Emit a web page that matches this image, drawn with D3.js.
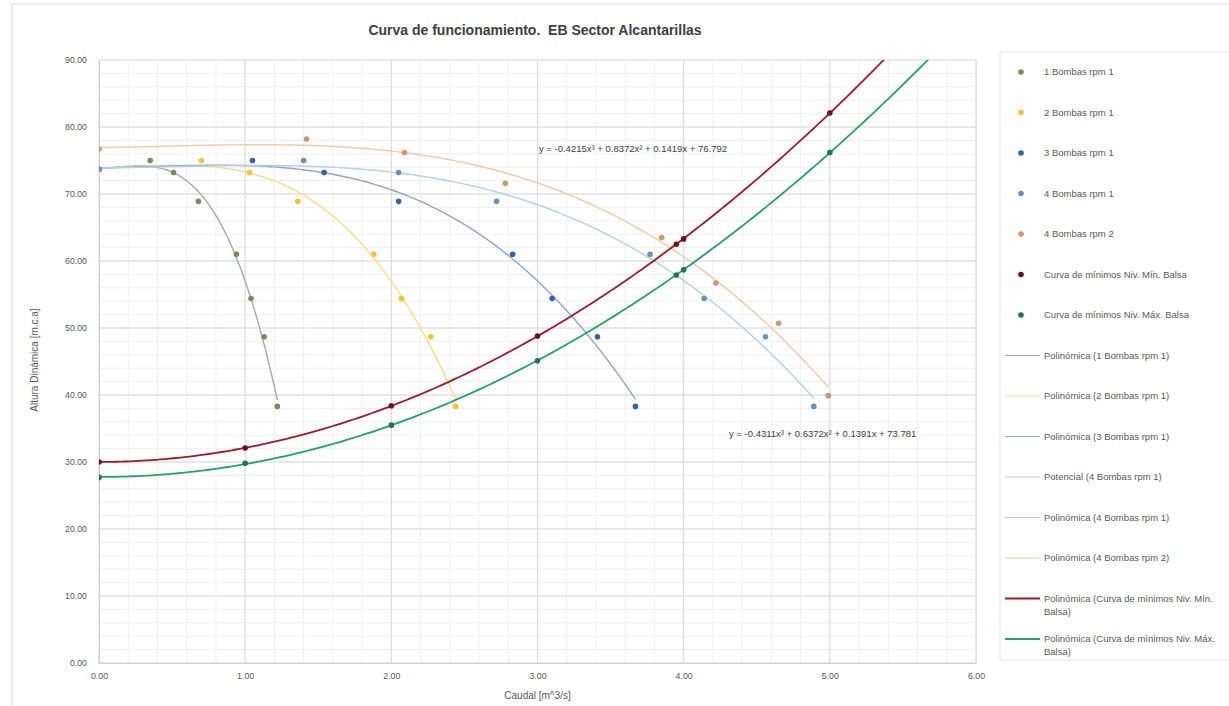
<!DOCTYPE html>
<html>
<head>
<meta charset="utf-8">
<script src="https://cdn.jsdelivr.net/npm/d3@7"></script>
<style>
  body { margin: 0; background: #fff; }
  svg { font-family: "Liberation Sans", Arial, sans-serif; }
</style>
</head>
<body>
<div id="chart"></div>
<script>
// caudal (m3/s) y altura (m.c.a)
const alturaRpm1 = [73.7, 75.0, 73.2, 68.9, 61.0, 54.4, 48.7, 38.3];
const caudal1Bomba = [0, 0.35, 0.51, 0.68, 0.94, 1.04, 1.13, 1.22];
const caudal2Bombas = [0, 0.70, 1.03, 1.36, 1.88, 2.07, 2.27, 2.44];
const caudal3Bombas = [0, 1.05, 1.54, 2.05, 2.83, 3.10, 3.41, 3.67];
const caudal4Bombas = [0, 1.40, 2.05, 2.72, 3.77, 4.14, 4.56, 4.89];
const caudal4BombasRpm2 = [0, 1.42, 2.09, 2.78, 3.85, 4.22, 4.65, 4.99];
const altura4BombasRpm2 = [76.7, 78.2, 76.2, 71.6, 63.5, 56.7, 50.7, 39.9];
const caudalCurva = [0, 1, 2, 3, 3.95, 4, 5];
const alturaMinBalsa = [30.0, 32.1, 38.4, 48.8, 62.5, 63.3, 82.1];
const alturaMaxBalsa = [27.7, 29.8, 35.5, 45.1, 57.9, 58.7, 76.2];

const xTicks = [0, 1, 2, 3, 4, 5, 6];
const yTicks = [0, 10, 20, 30, 40, 50, 60, 70, 80, 90];

const titulo = 'Curva de funcionamiento.\u00a0 EB Sector Alcantarillas';
const ecuacionRpm2 = 'y = -0.4215x³ + 0.8372x² + 0.1419x + 76.792';
const ecuacionRpm1 = 'y = -0.4311x³ + 0.6372x² + 0.1391x + 73.781';

const series = [
  { name: '1 Bombas rpm 1', q: caudal1Bomba, h: alturaRpm1, color: '#71905c', trend: '#a9a9a9', deg: 3 },
  { name: '2 Bombas rpm 1', q: caudal2Bombas, h: alturaRpm1, color: '#f4c430', trend: '#f6df86', deg: 3 },
  { name: '3 Bombas rpm 1', q: caudal3Bombas, h: alturaRpm1, color: '#3b5ea6', trend: '#93a5bf', deg: 3 },
  { name: '4 Bombas rpm 1', q: caudal4Bombas, h: alturaRpm1, color: '#6a90bd', trend: '#b3d0ea', deg: 3 },
  { name: '4 Bombas rpm 2', q: caudal4BombasRpm2, h: altura4BombasRpm2, color: '#c99a6c', trend: '#f3c9a6', deg: 3 },
  { name: 'Curva de mínimos Niv. Mín. Balsa', q: caudalCurva, h: alturaMinBalsa, color: '#6e1020', trend: '#a3182c', deg: 2, forward: true },
  { name: 'Curva de mínimos Niv. Máx. Balsa', q: caudalCurva, h: alturaMaxBalsa, color: '#1f7655', trend: '#22a36c', deg: 2, forward: true }
];

const legendItems = [
  { text: ['1 Bombas rpm 1'], dot: series[0].color },
  { text: ['2 Bombas rpm 1'], dot: series[1].color },
  { text: ['3 Bombas rpm 1'], dot: series[2].color },
  { text: ['4 Bombas rpm 1'], dot: series[3].color },
  { text: ['4 Bombas rpm 2'], dot: series[4].color },
  { text: ['Curva de mínimos Niv. Mín. Balsa'], dot: series[5].color },
  { text: ['Curva de mínimos Niv. Máx. Balsa'], dot: series[6].color },
  { text: ['Polinómica (1 Bombas rpm 1)'], line: series[0].trend },
  { text: ['Polinómica (2 Bombas rpm 1)'], line: series[1].trend },
  { text: ['Polinómica (3 Bombas rpm 1)'], line: series[2].trend },
  { text: ['Potencial (4 Bombas rpm 1)'], line: '#c8c8c8' },
  { text: ['Polinómica (4 Bombas rpm 1)'], line: series[3].trend },
  { text: ['Polinómica (4 Bombas rpm 2)'], line: series[4].trend },
  { text: ['Polinómica (Curva de mínimos Niv. Mín.', 'Balsa)'], line: series[5].trend, thick: true },
  { text: ['Polinómica (Curva de mínimos Niv. Máx.', 'Balsa)'], line: series[6].trend, thick: true }
];

// ajuste por minimos cuadrados (como la linea de tendencia de Excel)
function polyfit(xs, ys, deg) {
  const n = deg + 1;
  const A = [];
  for (let i = 0; i < n; i++) {
    A.push([]);
    for (let j = 0; j <= n; j++) A[i].push(0);
  }
  xs.forEach((x, k) => {
    for (let i = 0; i < n; i++) {
      for (let j = 0; j < n; j++) A[i][j] += Math.pow(x, i + j);
      A[i][n] += ys[k] * Math.pow(x, i);
    }
  });
  for (let c = 0; c < n; c++) {
    let p = c;
    for (let r = c + 1; r < n; r++) if (Math.abs(A[r][c]) > Math.abs(A[p][c])) p = r;
    [A[c], A[p]] = [A[p], A[c]];
    for (let r = 0; r < n; r++) {
      if (r === c) continue;
      const f = A[r][c] / A[c][c];
      for (let j = c; j <= n; j++) A[r][j] -= f * A[c][j];
    }
  }
  return A.map((row, i) => row[n] / row[i]);
}

const width = 1229, height = 706;
const margin = { top: 60, left: 99 };
const plotW = 877, plotH = 603;

const svg = d3.select('#chart').append('svg')
  .attr('width', width)
  .attr('height', height);

svg.append('rect').attr('x', 12).attr('y', 4).attr('width', width).attr('height', height)
  .attr('fill', '#fff').attr('stroke', '#d9d9d9');

const x = d3.scaleLinear().domain([0, 6]).range([margin.left, margin.left + plotW]);
const y = d3.scaleLinear().domain([0, 90]).range([margin.top + plotH, margin.top]);

// rejilla secundaria
svg.append('g').selectAll('line')
  .data(d3.range(0, 6.001, 0.2))
  .join('line')
  .attr('x1', d => x(d)).attr('x2', d => x(d))
  .attr('y1', y(0)).attr('y2', y(90))
  .attr('stroke', '#f0f0f0');
svg.append('g').selectAll('line')
  .data(d3.range(0, 90.001, 2))
  .join('line')
  .attr('x1', x(0)).attr('x2', x(6))
  .attr('y1', d => y(d)).attr('y2', d => y(d))
  .attr('stroke', '#f0f0f0');

// rejilla principal
svg.append('g').selectAll('line')
  .data(xTicks)
  .join('line')
  .attr('x1', d => x(d)).attr('x2', d => x(d))
  .attr('y1', y(0)).attr('y2', y(90))
  .attr('stroke', '#dadada');
svg.append('g').selectAll('line')
  .data(yTicks)
  .join('line')
  .attr('x1', x(0)).attr('x2', x(6))
  .attr('y1', d => y(d)).attr('y2', d => y(d))
  .attr('stroke', '#dadada');

const xAxis = svg.append('g')
  .attr('transform', 'translate(0,' + y(0) + ')')
  .call(d3.axisBottom(x).tickValues(xTicks).tickFormat(d3.format('.2f')).tickSize(0).tickPadding(10));
const yAxis = svg.append('g')
  .attr('transform', 'translate(' + x(0) + ',0)')
  .call(d3.axisLeft(y).tickValues(yTicks).tickFormat(d3.format('.2f')).tickSize(0).tickPadding(12));
[xAxis, yAxis].forEach(a => {
  a.select('.domain').attr('stroke', '#d0d0d0');
  a.selectAll('text').attr('fill', '#595959').style('font-size', '8.8px');
});

svg.append('defs').append('clipPath').attr('id', 'plot')
  .append('rect').attr('x', x(0)).attr('y', y(90)).attr('width', plotW).attr('height', plotH);

const plot = svg.append('g').attr('clip-path', 'url(#plot)');
const line = d3.line().x(d => x(d[0])).y(d => y(d[1]));

series.forEach(s => {
  const c = polyfit(s.q, s.h, s.deg);
  const xmax = s.forward ? 6 : d3.max(s.q);
  const pts = d3.range(0, xmax + 0.0001, xmax / 200).map(v => [v, c.reduce((acc, k, i) => acc + k * Math.pow(v, i), 0)]);
  plot.append('path')
    .datum(pts)
    .attr('fill', 'none')
    .attr('stroke', s.trend)
    .attr('stroke-width', s.forward ? 1.8 : 1.4)
    .attr('d', line);
});

series.forEach(s => {
  plot.append('g').selectAll('circle')
    .data(s.q.map((q, i) => [q, s.h[i]]))
    .join('circle')
    .attr('cx', d => x(d[0]))
    .attr('cy', d => y(d[1]))
    .attr('r', 2.8)
    .attr('fill', s.color);
});

svg.append('text')
  .attr('x', x(3.01)).attr('y', y(76.3))
  .attr('fill', '#404040').style('font-size', '9.5px')
  .text(ecuacionRpm2);
svg.append('text')
  .attr('x', x(4.31)).attr('y', y(33.7))
  .attr('fill', '#404040').style('font-size', '9.5px')
  .text(ecuacionRpm1);

svg.append('text')
  .attr('x', 535).attr('y', 35)
  .attr('text-anchor', 'middle')
  .attr('fill', '#404040')
  .style('font-size', '14px').style('font-weight', 'bold')
  .text(titulo);

svg.append('text')
  .attr('x', x(3)).attr('y', 699)
  .attr('text-anchor', 'middle').attr('fill', '#595959')
  .style('font-size', '10px')
  .text('Caudal [m^3/s]');

svg.append('text')
  .attr('transform', 'translate(38,360) rotate(-90)')
  .attr('text-anchor', 'middle').attr('fill', '#595959')
  .style('font-size', '10px')
  .text('Altura Dinámica [m.c.a]');

// leyenda
svg.append('rect').attr('x', 1000).attr('y', 52).attr('width', 240).attr('height', 608)
  .attr('fill', 'none').attr('stroke', '#e6e6e6');

const leg = svg.append('g').selectAll('g')
  .data(legendItems)
  .join('g')
  .attr('transform', (d, i) => 'translate(0,' + (72 + i * 40.5) + ')');

leg.filter(d => d.dot).append('circle')
  .attr('cx', 1021).attr('cy', 0).attr('r', 2.8)
  .attr('fill', d => d.dot);
leg.filter(d => d.line).append('line')
  .attr('x1', 1005).attr('x2', 1040).attr('y1', 0).attr('y2', 0)
  .attr('stroke', d => d.line)
  .attr('stroke-width', d => d.thick ? 1.8 : 1.2);
leg.append('text')
  .attr('x', 1044).attr('y', 3)
  .attr('fill', '#595959')
  .style('font-size', '9.5px')
  .selectAll('tspan')
  .data(d => d.text)
  .join('tspan')
  .attr('x', 1044)
  .attr('dy', (d, i) => i === 0 ? 0 : 13)
  .text(d => d);
</script>
</body>
</html>
